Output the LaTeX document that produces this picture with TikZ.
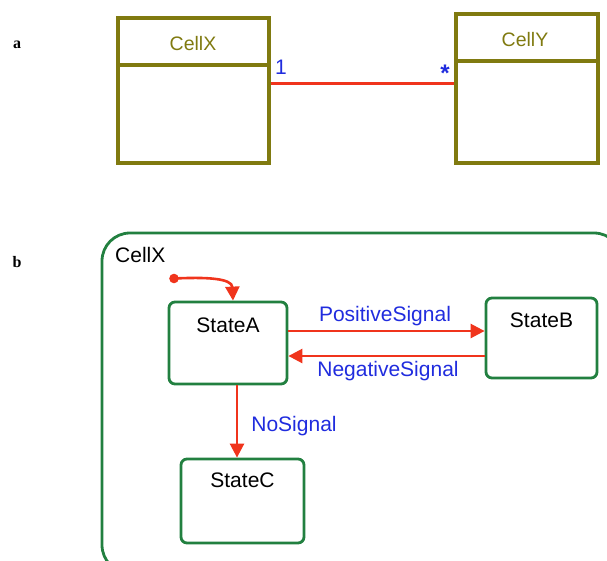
\documentclass[tikz,border=0pt]{standalone}
\usepackage{fontspec}
\setmainfont{Liberation Sans}
\newfontfamily\serifbold{Liberation Serif}
\usetikzlibrary{arrows.meta}
\definecolor{olivebox}{RGB}{128,122,16}
\definecolor{stategreen}{RGB}{34,128,64}
\definecolor{transred}{RGB}{240,52,28}
\definecolor{eventblue}{RGB}{32,44,222}
\tikzset{
  classbox/.style={draw=olivebox, line width=3.8pt, rectangle, inner sep=0pt},
  classname/.style={text=olivebox, font=\fontsize{19.5}{22}\selectfont, inner sep=0pt},
  mult/.style={text=eventblue, font=\fontsize{21}{22}\selectfont, inner sep=0pt},
  statebox/.style={draw=stategreen, line width=2.8pt, rounded corners=6pt, rectangle, inner sep=0pt},
  statename/.style={text=black, font=\fontsize{21}{23}\selectfont, inner sep=0pt},
  event/.style={text=eventblue, font=\fontsize{21}{23}\selectfont, inner sep=0pt},
  trans/.style={draw=transred, line width=2.6pt, -{Triangle[length=14pt,width=14pt]}},
  assoc/.style={draw=transred, line width=3pt},
  panel/.style={font=\serifbold\bfseries\fontsize{16}{18}\selectfont, inner sep=0pt}
}
\begin{document}
\begin{tikzpicture}[x=1pt,y=-1pt]
\useasboundingbox (0,0) rectangle (607,560);

% panel letters
\node[panel] (la) at (17,45) {a};
\node[panel] (lb) at (17,262) {b};

% (a) class diagram
\node[classbox, minimum width=151pt, minimum height=145pt] (cx) at (193.5,90.5) {};
\node[classbox, minimum width=142pt, minimum height=149pt] (cy) at (527,88.5) {};
\draw[olivebox, line width=3.8pt] (cx.west |- 0,65) -- (cx.east |- 0,65);
\draw[olivebox, line width=3.8pt] (cy.west |- 0,61) -- (cy.east |- 0,61);
\node[classname] (cxn) at (193,44) {CellX};
\node[classname] (cyn) at (525,40) {CellY};
\draw[assoc] (cx.east |- 0,83) -- (cy.west |- 0,83);
\node[mult] (m1) at (281,67) {1};
\node[mult, font=\bfseries\fontsize{24}{24}\selectfont] (m2) at (445,73) {*};

% (b) state machine of CellX
\begin{scope}
\clip (0,0) rectangle (607,560);
\node[draw=stategreen, line width=2.8pt, rounded corners=28pt, rectangle,
      minimum width=520pt, minimum height=340pt, inner sep=0pt] (outer) at (362,403) {};
\end{scope}
\node[statename, anchor=west] (owner) at (115,255) {CellX};

\node[statebox, minimum width=118pt, minimum height=82pt] (sa) at (228,343) {};
\node[statebox, minimum width=111pt, minimum height=80pt] (sb) at (541.5,338) {};
\node[statebox, minimum width=123pt, minimum height=84pt] (sc) at (242.5,501) {};
\node[statename] (sat) at ([yshift=-25pt]sa.north) {StateA};
\node[statename] (sbt) at ([yshift=-24pt]sb.north) {StateB};
\node[statename] (sct) at ([yshift=-23pt]sc.north) {StateC};

% initial pseudostate
\fill[transred] (174,278.5) circle (4.8pt) coordinate (init);
\draw[trans] (init) .. controls (205,277) and (232,278) .. (sa.north -| 233,0);

% transitions
\draw[trans] (sa.east |- 0,331) -- (sb.west |- 0,331);
\draw[trans] (sb.west |- 0,356) -- (sa.east |- 0,356);
\draw[trans] (sa.south -| 237,0) -- (sc.north -| 237,0);
\node[event] (ep) at (385,316) {PositiveSignal};
\node[event] (en) at (388,371) {NegativeSignal};
\node[event] (ens) at (294,426) {NoSignal};
\end{tikzpicture}
\end{document}
